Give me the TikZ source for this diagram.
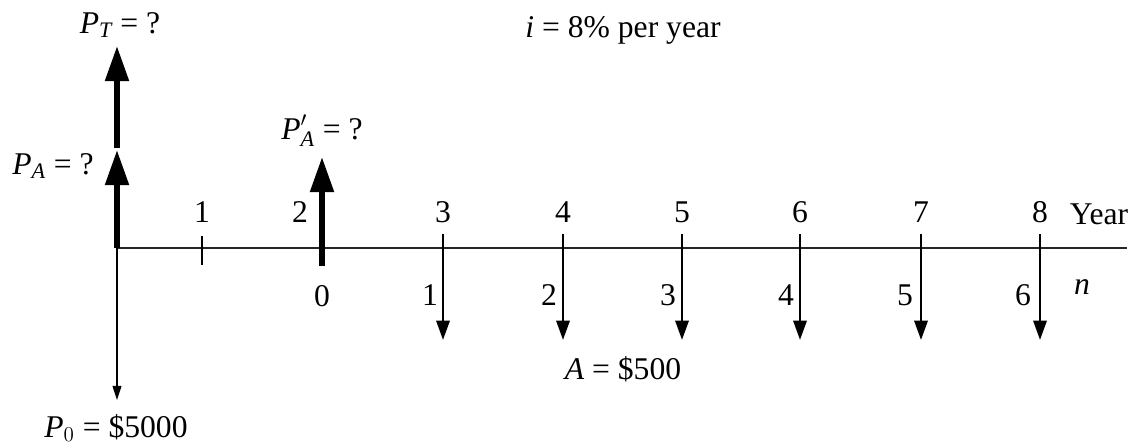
\documentclass[tikz,border=0pt]{standalone}
\usepackage{amsmath}
\usepackage{fontspec}
\setmainfont{Liberation Serif}
\usetikzlibrary{arrows.meta}
\newcommand\vi[1]{\textit{#1}}
\tikzset{
  lbl/.style={inner sep=0pt, font=\fontsize{18}{21}\selectfont},
  bigarrow/.style={line width=3.3pt, -{Triangle[length=20pt,width=13pt]}},
  payarrow/.style={line width=1.5pt, -{Triangle[length=11pt,width=7.5pt]}},
  thinarrow/.style={line width=0.8pt, -{Triangle[length=8pt,width=5pt]}},
  axisline/.style={line width=0.8pt, draw=black!85},
}
\begin{document}
\begin{tikzpicture}[x=0.02cm,y=-0.02cm]
\useasboundingbox (0,0) rectangle (1128,446);
% axis
\coordinate (o) at (117,248);
\coordinate (axend) at (1127,248);
\draw[axisline] (o) -- (axend);
% tick at year 1
\coordinate (t1a) at (202,236);
\coordinate (t1b) at (202,265);
\draw[line width=0.8pt] (t1a) -- (t1b);
% P0 thin down arrow
\coordinate (p0end) at (117,400);
\draw[thinarrow] (o) -- (p0end);
% PA and PT arrows
\coordinate (patip) at (117,150);
\coordinate (ptbase) at (117,148);
\coordinate (pttip) at (117,46);
\draw[bigarrow] (o) -- (patip);
\draw[bigarrow] (ptbase) -- (pttip);
% P'A arrow
\coordinate (pabase) at (322,266);
\coordinate (patip2) at (322,157);
\draw[bigarrow] (pabase) -- (patip2);
% payment arrows
\foreach \x/\k in {443/3,563/4,682/5,800/6,921/7,1040/8}{
  \coordinate (s\k) at (\x,234);
  \coordinate (e\k) at (\x,340);
  \draw[payarrow] (s\k) -- (e\k);
}
% year labels
\foreach \x/\k in {202/1,300/2,443/3,563/4,682/5,800/6,921/7,1040/8}{
  \node[lbl] (y\k) at (\x,212) {\k};
}
\node[lbl] (year) at (1099,214) {Year};
% n labels
\node[lbl] (n0) at (322,296) {0};
\foreach \x/\k in {430/1,549/2,668/3,786/4,905/5,1023/6}{
  \node[lbl] (n\k) at (\x,295) {\k};
}
\node[lbl] (nlab) at (1082,287) {\vi{n}};
% text labels
\node[lbl] (PT) at (120,25) {$\vi{P}_{\vi{T}}$ = ?};
\node[lbl] (PA) at (53,166) {$\vi{P}_{\vi{A}}$ = ?};
\node[lbl] (PAp) at (322,131) {$\vi{P}'_{\vi{A}}$ = ?};
\node[lbl] (rate) at (623,30) {\vi{i} = 8\% per year};
\node[lbl] (A) at (623,369) {\vi{A} = \$500};
\node[lbl] (P0) at (116,428) {$\vi{P}_{0}$ = \$5000};
\end{tikzpicture}
\end{document}
